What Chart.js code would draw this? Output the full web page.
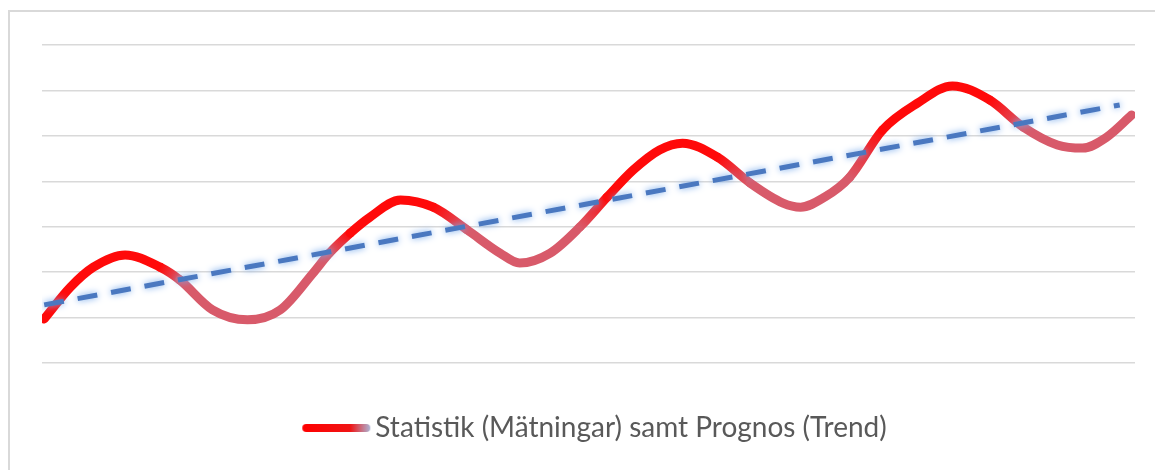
<!DOCTYPE html>
<html>
<head>
<meta charset="utf-8">
<script src="https://cdn.jsdelivr.net/npm/chart.js@4.4.0/dist/chart.umd.min.js"></script>
<style>
  html, body { margin: 0; padding: 0; background: #fff; overflow: hidden; width: 1155px; height: 470px; }
  #frame { position: absolute; left: 8px; top: 10px; width: 1200px; height: 520px; border: 2px solid #d9d9d9; box-sizing: border-box; }
  #wrap { position: absolute; left: 10px; top: 12px; width: 1146px; height: 440px; }
</style>
</head>
<body>
<div id="frame"></div>
<div id="wrap"><canvas id="chart"></canvas></div>
<script>
// measurements (x = time, y = value)
const xs = [0.2, 2.6, 4.7, 7.6, 10.8, 12.6, 15.6, 18.8, 21.8, 24.8, 26.3, 28.2, 30.0, 32.8,
            35.8, 38.9, 41.9, 43.7, 46.5, 49.2, 51.7, 54.1, 56.5, 58.6, 61.8, 64.8, 67.8, 69.4,
            71.6, 73.9, 76.9, 80.1, 83.3, 86.7, 89.8, 92.9, 95.2, 97.4, 99.7]
const statistik = [9.7, 16.7, 21.1, 23.8, 21.1, 18.3, 11.7, 9.5, 11.7, 19.8, 24.2, 28.6, 32.1, 35.9,
                   34.3, 29.3, 24.2, 22.0, 24.2, 29.9, 36.5, 42.5, 46.9, 48.4, 45.3, 39.6, 35.2, 34.3,
                   36.5, 40.9, 51.3, 57.2, 61.0, 57.9, 51.9, 48.0, 47.3, 49.7, 54.6]

// prognos (linear trend)
const trendX = [0.2, 98.6]
const trend = [12.8, 56.8]

const yTicks = [0, 10, 20, 30, 40, 50, 60, 70]

const legendText = 'Statistik (Mätningar) samt Prognos (Trend)'

const red = '#ff0a0a'
const pink = '#d85a6a'

function trendAt(x) {
    const t = (x - trendX[0]) / (trendX[1] - trendX[0])
    return trend[0] + t * (trend[1] - trend[0])
}

// red above the trend, pink below it
function pointColor(i) {
    if (i === 0) return red
    return statistik[i] >= trendAt(xs[i]) ? red : pink
}

function segColor(ctx) {
    const c0 = pointColor(ctx.p0DataIndex)
    const c1 = pointColor(ctx.p1DataIndex)
    if (c0 === c1) return c0
    const g = ctx.chart.ctx.createLinearGradient(ctx.p0.x, ctx.p0.y, ctx.p1.x, ctx.p1.y)
    g.addColorStop(0, c0)
    g.addColorStop(1, c1)
    return g
}

// legend sample: red line fading into the blue trend
const sample = document.createElement('canvas')
sample.width = 70
sample.height = 10
const sc = sample.getContext('2d')
const sg = sc.createLinearGradient(0, 0, 70, 0)
sg.addColorStop(0, '#ff0000')
sg.addColorStop(0.7, '#f01515')
sg.addColorStop(1, '#a9bde0')
sc.strokeStyle = sg
sc.lineWidth = 8
sc.lineCap = 'round'
sc.beginPath()
sc.moveTo(5, 5)
sc.lineTo(65, 5)
sc.stroke()

const glow = {
    id: 'glow',
    beforeDatasetDraw(chart, args) {
        if (args.index !== 1) return
        const c = chart.ctx
        c.save()
        c.shadowColor = 'rgba(120,170,235,1)'
        c.shadowBlur = 7
    },
    afterDatasetDraw(chart, args) {
        if (args.index === 1) chart.ctx.restore()
    }
}

const data = {
    datasets: [
        {
            label: legendText,
            data: xs.map((x, i) => ({ x: x, y: statistik[i] })),
            borderColor: red,
            borderWidth: 9,
            borderCapStyle: 'round',
            borderJoinStyle: 'round',
            cubicInterpolationMode: 'monotone',
            pointRadius: 0,
            order: 2,
            segment: { borderColor: segColor }
        },
        {
            label: 'Trend',
            data: trendX.map((x, i) => ({ x: x, y: trend[i] })),
            borderColor: '#4a78c0',
            borderWidth: 5,
            borderDash: [20, 14],
            pointRadius: 0,
            order: 1
        }
    ]
}

const config = {
    type: 'line',
    data: data,
    plugins: [glow],
    options: {
        responsive: true,
        maintainAspectRatio: false,
        animation: false,
        layout: { padding: { left: 32, right: 0, top: 33, bottom: 0 } },
        scales: {
            x: { type: 'linear', min: 0, max: 100, display: false },
            y: {
                position: 'right',
                min: yTicks[0],
                max: yTicks[yTicks.length - 1],
                afterBuildTicks: (s) => { s.ticks = yTicks.map(v => ({ value: v })) },
                afterFit: (s) => { s.width = 21 },
                ticks: { display: false },
                grid: { color: '#d9d9d9', lineWidth: 1.5, drawTicks: false },
                border: { display: false }
            }
        },
        plugins: {
            legend: {
                display: true,
                position: 'bottom',
                labels: {
                    filter: (item) => item.datasetIndex === 0,
                    usePointStyle: true,
                    pointStyle: sample,
                    pointStyleWidth: 50,
                    padding: 51,
                    color: '#595959',
                    font: { family: 'Lato, "Liberation Sans", sans-serif', size: 28 }
                }
            },
            tooltip: { enabled: false }
        }
    }
}

const chart = new Chart(document.getElementById('chart'), config)
</script>
</body>
</html>
